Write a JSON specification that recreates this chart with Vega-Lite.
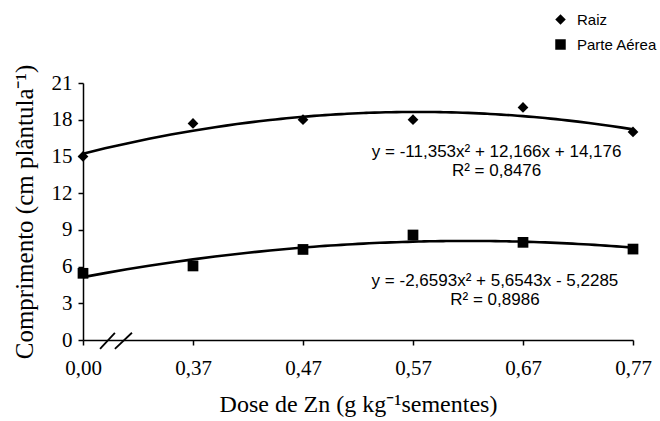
{
  "$schema": "https://vega.github.io/schema/vega-lite/v6.json",
  "width": 550,
  "height": 257,
  "autosize": {"type": "none"},
  "padding": {"left": 83, "top": 83, "right": 27, "bottom": 81},
  "background": "white",
  "config": {
    "view": {"stroke": null},
    "axis": {
      "domainColor": "black", "domainWidth": 1.5,
      "tickColor": "black", "tickWidth": 1.5, "tickSize": 5,
      "labelFont": "Liberation Serif", "labelFontSize": 21, "labelColor": "black",
      "labelOverlap": false, "labelBound": false, "labelFlush": false,
      "titleFont": "Liberation Serif", "titleFontWeight": "normal", "titleColor": "black",
      "grid": false
    }
  },
  "datasets": {
    "pts": [
      {"i": 0, "y": 15.0, "s": "Raiz"},
      {"i": 1, "y": 17.7, "s": "Raiz"},
      {"i": 2, "y": 18.0, "s": "Raiz"},
      {"i": 3, "y": 18.0, "s": "Raiz"},
      {"i": 4, "y": 19.0, "s": "Raiz"},
      {"i": 5, "y": 17.0, "s": "Raiz"},
      {"i": 0, "y": 5.45, "s": "Parte Aérea"},
      {"i": 1, "y": 6.05, "s": "Parte Aérea"},
      {"i": 2, "y": 7.4, "s": "Parte Aérea"},
      {"i": 3, "y": 8.58, "s": "Parte Aérea"},
      {"i": 4, "y": 7.98, "s": "Parte Aérea"},
      {"i": 5, "y": 7.43, "s": "Parte Aérea"}
    ],
    "notes": [
      {"t": "y = -11,353x²  + 12,166x + 14,176", "i": 3.76, "y": 14.96},
      {"t": "R² = 0,8476", "i": 3.76, "y": 13.43},
      {"t": "y = -2,6593x²  + 5,6543x  - 5,2285", "i": 3.745, "y": 4.45},
      {"t": "R² = 0,8986", "i": 3.745, "y": 2.86}
    ],
    "brk": [
      {"i": 0.155, "y": -0.72, "i2": 0.29, "y2": 0.59},
      {"i": 0.29, "y": -0.72, "i2": 0.445, "y2": 0.59}
    ]
  },
  "encoding": {
    "x": {
      "field": "i", "type": "quantitative",
      "scale": {"domain": [0, 5], "nice": false, "zero": false},
      "axis": {
        "values": [0, 1, 2, 3, 4, 5],
        "labelExpr": "['0,00','0,37','0,47','0,57','0,67','0,77'][datum.value]",
        "labelPadding": 12,
        "labelOverlap": false,
        "title": "Dose de Zn (g kg⁻¹sementes)",
        "titleFontSize": 24,
        "titlePadding": 14
      }
    },
    "y": {
      "field": "y", "type": "quantitative",
      "scale": {"domain": [0, 21], "nice": false},
      "axis": {
        "values": [0, 3, 6, 9, 12, 15, 18, 21],
        "labelPadding": 6,
        "labelOverlap": false,
        "title": "Comprimento (cm plântula⁻¹)",
        "titleFontSize": 25,
        "titlePadding": 14
      }
    }
  },
  "layer": [
    {
      "data": {"name": "pts"},
      "transform": [
        {"regression": "y", "on": "i", "method": "poly", "order": 2, "groupby": ["s"]}
      ],
      "mark": {"type": "line", "color": "black", "strokeWidth": 2.6, "clip": false},
      "encoding": {
        "detail": {"field": "s"}
      }
    },
    {
      "data": {"name": "pts"},
      "mark": {"type": "point", "filled": true, "color": "black", "opacity": 1, "size": 115, "strokeWidth": 0},
      "encoding": {
        "shape": {
          "field": "s", "type": "nominal",
          "scale": {"domain": ["Raiz", "Parte Aérea"], "range": ["diamond", "square"]},
          "legend": {
            "title": null,
            "orient": "none",
            "legendX": 470,
            "legendY": -71,
            "padding": 0,
            "labelFont": "Liberation Sans",
            "labelFontSize": 15,
            "labelColor": "black",
            "labelOffset": 9,
            "rowPadding": 9,
            "symbolFillColor": "black",
            "symbolStrokeWidth": 0,
            "symbolSize": 110,
            "symbolOpacity": 1,
            "encode": {
              "symbols": {
                "update": {
                  "shape": {"signal": "datum.value === 'Parte Aérea' ? 'M-0.6,-1L0.6,-1L0.6,1L-0.6,1Z' : 'diamond'"},
                  "size": {"signal": "datum.value === 'Parte Aérea' ? 144 : 100"}
                }
              }
            }
          }
        }
      }
    },
    {
      "data": {"name": "notes"},
      "mark": {"type": "text", "font": "Liberation Sans", "fontSize": 17, "color": "black", "align": "center", "baseline": "alphabetic"},
      "encoding": {
        "text": {"field": "t"}
      }
    },
    {
      "data": {"name": "brk"},
      "mark": {"type": "rule", "color": "black", "strokeWidth": 1.8, "clip": false},
      "encoding": {
        "x2": {"field": "i2"},
        "y2": {"field": "y2"}
      }
    }
  ]
}
